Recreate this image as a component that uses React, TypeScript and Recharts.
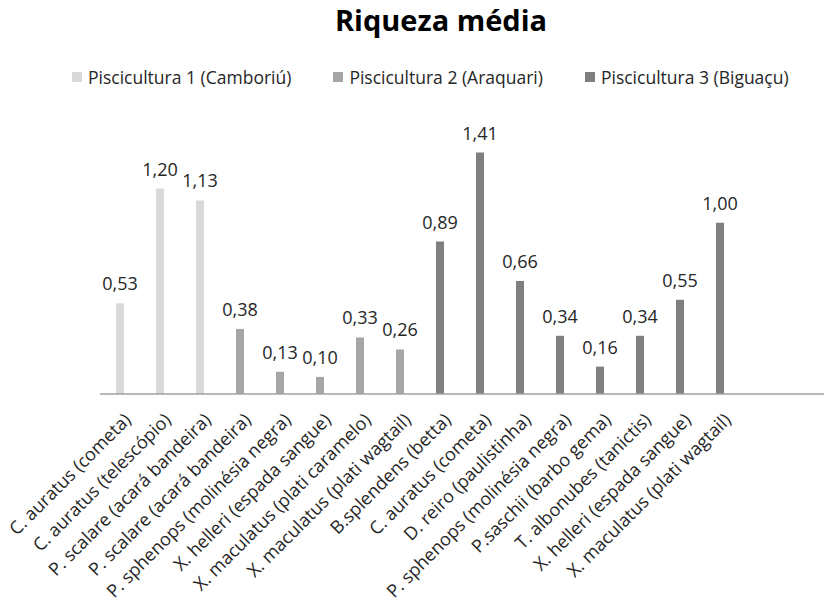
import { BarChart, Bar, XAxis, YAxis, Legend, LabelList } from "recharts";

const categories = [
  "C. auratus (cometa)",
  "C. auratus (telescópio)",
  "P. scalare (acará bandeira)",
  "P. scalare (acará bandeira)",
  "P. sphenops (molinésia negra)",
  "X. helleri (espada sangue)",
  "X. maculatus (plati caramelo)",
  "X. maculatus (plati wagtail)",
  "B.splendens (betta)",
  "C. auratus (cometa)",
  "D. reiro (paulistinha)",
  "P. sphenops (molinésia negra)",
  "P.saschii (barbo gema)",
  "T. albonubes (tanictis)",
  "X. helleri  (espada sangue)",
  "X. maculatus (plati wagtail)",
];

// which farm each category belongs to (index into seriesNames)
const farmIndex = [0, 0, 0, 1, 1, 1, 1, 1, 2, 2, 2, 2, 2, 2, 2, 2];

const riqueza = [
  0.53, 1.2, 1.13, 0.38, 0.13, 0.1, 0.33, 0.26, 0.89, 1.41, 0.66, 0.34, 0.16,
  0.34, 0.55, 1.0,
];

const seriesNames = [
  "Piscicultura 1 (Camboriú)",
  "Piscicultura 2 (Araquari)",
  "Piscicultura 3 (Biguaçu)",
];
const seriesKeys = ["p1", "p2", "p3"];
const COLORS = ["#d9d9d9", "#a6a6a6", "#7f7f7f"];

const data = categories.map((name, i) => {
  const row: any = { name };
  seriesKeys.forEach((k, s) => {
    row[k] = farmIndex[i] === s ? riqueza[i] : null;
  });
  return row;
});

const FONT = "'Open Sans', Lato, sans-serif";

const fmt = (v: any) =>
  v === null || v === undefined ? "" : Number(v).toFixed(2).replace(".", ",");

const AngledTick = (props: any) => {
  const { x, y, payload } = props;
  return (
    <text
      transform={`translate(${x + 12},${y + 25}) rotate(-45)`}
      textAnchor="end"
      fontSize={18}
      fontFamily={FONT}
      fill="#262626"
    >
      {payload.value}
    </text>
  );
};

const renderLegend = () => (
  <div
    style={{
      display: "flex",
      justifyContent: "flex-start",
      paddingLeft: 72,
      gap: 42,
      height: 20,
      lineHeight: "20px",
      fontFamily: FONT,
      fontSize: 17.5,
      color: "#262626",
      whiteSpace: "nowrap",
    }}
  >
    {seriesNames.map((n, i) => (
      <div key={n} style={{ display: "flex", alignItems: "center", gap: 6 }}>
        <span
          style={{
            width: 10,
            height: 10,
            background: COLORS[i],
            display: "inline-block",
          }}
        />
        <span>{n}</span>
      </div>
    ))}
  </div>
);

export default function App() {
  return (
    <div
      style={{
        position: "absolute",
        left: 0,
        top: 0,
        width: 824,
        height: 606,
        background: "#fff",
        overflow: "hidden",
      }}
    >
      <div
        style={{
          position: "absolute",
          left: 241,
          width: 400,
          top: 0,
          textAlign: "center",
          fontFamily: FONT,
          fontWeight: 700,
          fontSize: 29,
          color: "#000",
        }}
      >
        Riqueza média
      </div>
      <BarChart
        width={824}
        height={606}
        data={data}
        margin={{ top: 100, right: 0, left: 100, bottom: 0 }}
      >
        <Legend
          verticalAlign="top"
          content={renderLegend}
          wrapperStyle={{ top: 67, left: 0, width: 824 }}
        />
        <YAxis hide width={0} domain={[0, 1.6]} />
        <XAxis
          dataKey="name"
          interval={0}
          height={212}
          tickLine={false}
          tickSize={0}
          axisLine={{ stroke: "#a0a0a0", strokeWidth: 1.5 }}
          padding={{ left: 0, right: 84 }}
          tick={<AngledTick />}
        />
        {seriesKeys.map((k, s) => (
          <Bar
            key={k}
            dataKey={k}
            name={seriesNames[s]}
            stackId="a"
            fill={COLORS[s]}
            barSize={8}
            isAnimationActive={false}
          >
            <LabelList
              dataKey={k}
              position="top"
              offset={13}
              formatter={fmt}
              fontSize={18}
              fontFamily={FONT}
              fill="#262626"
            />
          </Bar>
        ))}
      </BarChart>
    </div>
  );
}
